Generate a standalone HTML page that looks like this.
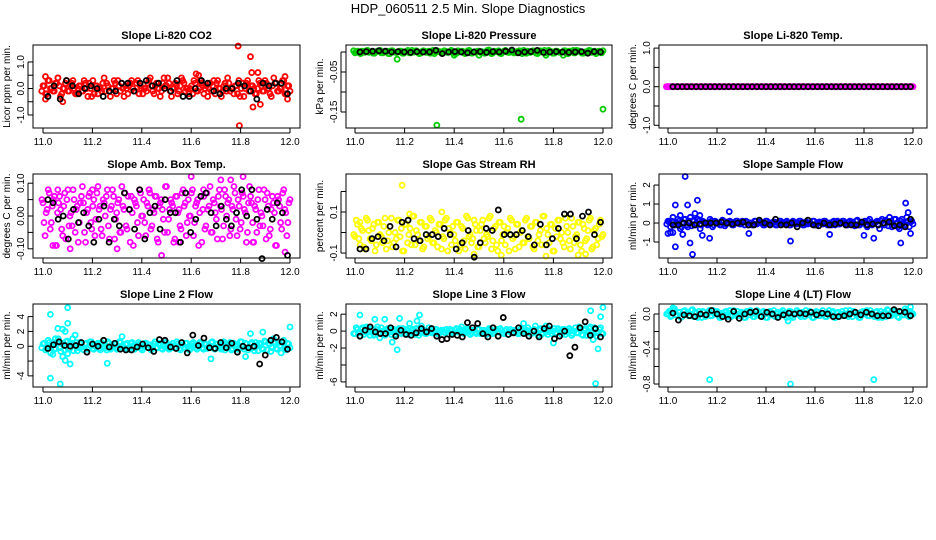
<!DOCTYPE html>
<html><head><meta charset="utf-8"><style>
body{margin:0;background:#fff}
svg{display:block;font-family:"Liberation Sans",Arial,sans-serif}
</style></head><body>
<svg id="c" width="936" height="540" viewBox="0 0 936 540">
<text x="468" y="13" text-anchor="middle" font-size="13">HDP_060511  2.5 Min. Slope Diagnostics</text>
</svg>
<script>
// ---------- data ----------
const xTicks=[11.0,11.2,11.4,11.6,11.8,12.0];
const xTickLabels=["11.0","11.2","11.4","11.6","11.8","12.0"];
// P1 CO2
const co2Main=[0.1,-0.2,0.3,0,-0.1,0.2,0.4,-0.3,0,0.2,-0.1,0.1,0.3,-0.2,0,0.1,-0.1,0.2,-0.3,0,0.3,0.1,-0.2,0,0.2,-0.1,0.1,-0.3,0,0.2,0.3,-0.1,0,0.1,-0.2,0.2,0,-0.1,0.3,0.1,-0.2,0,0.2,0.4,-0.1,0.1,0,-0.3,0.2,0.1,0.4,-0.1,0,0.2,-0.2,0.1,0.3,-0.1,0,0,-0.2,0.2,-0.1,0.3,0.1,0,-0.3,0.2,0.1,-0.2,0.3,0,-0.1,0.2,0.4,-0.1,0,0.1,-0.2,-0.3,0.2,0,0.3,-0.1,0.1,-0.2,0,0.2,-0.1,0.3,0,-0.2,0.1,0.2,-0.1,0,0.3,-0.2,0.1,-0.1];
const co2OutX=[11.01,11.01,11.06,11.08,11.79,11.795,11.84,11.845,11.85,11.87,11.88,11.98,11.99,11.62,11.63];
const co2OutY=[0.45,-0.4,0.4,-0.5,1.6,-1.4,1.2,0.6,-0.7,0.6,-0.6,0.45,-0.4,0.55,0.5];
const co2Black=[-0.3,0.1,-0.4,0.3,0.1,-0.2,0,0.1,0,-0.3,-0.1,-0.1,0.2,0.2,-0.1,0.2,0.3,0.1,0.2,0,-0.1,0.3,-0.3,-0.3,0,0.3,0.2,-0.1,-0.2,0,0,0.2,0.1,-0.1,-0.4,0.2,0.1,0.2,0.2,-0.2];
// P2 pressure
const presMain=[-0.002,0.002,-0.004,0.001,0.003,-0.001,0,-0.003,0.002,0.004,-0.002,0.001,-0.004,0.003,0,-0.001,0.002,-0.003,0.001,0.004,-0.002,0,0.003,-0.004,0.001,0.002,-0.001,-0.003,0.004,0,0.001,-0.002,0.003,-0.001,0,0.002,-0.004,0.003,0.001,-0.002,0,0.004,-0.003,0.001,0.002,-0.001,0,-0.002,0.003,-0.004,0.002,0.001,-0.003,0,0.004,-0.001,0.002,-0.002,0.001,0.003,-0.004,0,0.002,-0.001,0.003,-0.003,0.001,0,0.004,-0.002,0.001,-0.003,0.002,0,-0.001,0.003,-0.004,0.002,0.001,-0.002,0.003,0,-0.003,0.001,0.004,-0.001,0.002,-0.002,0,0.003];
const presOutX=[11.17,11.33,11.67,12.0,11.40,11.50,11.77,11.54,11.84,11.88];
const presOutY=[-0.018,-0.183,-0.168,-0.143,-0.008,-0.008,-0.008,0.005,-0.008,0.004];
const presBlack=[0,0.001,0.002,0.003,0.002,0,0.001,0,-0.001,0.001,0,0,0.004,-0.004,0,0.001,0,-0.002,0,0.001,-0.001,0.001,0,0.002,0.005,-0.002,0,0.001,0.004,-0.001,0,0.001,0,-0.001,0,0.001,-0.003,0.001,0];
// P3 temp
const tempMain=[0,0,0,0,0,0,0,0,0,0,0,0,0,0,0,0,0,0,0,0,0,0,0,0,0,0,0,0,0,0,0,0,0,0,0,0,0,0,0,0,0,0,0,0,0,0,0,0,0,0,0,0,0,0,0,0,0,0,0,0,0,0,0,0,0,0,0,0,0,0,0,0,0,0,0,0,0,0,0,0];
const tempOutX=[11.0,11.46];
const tempOutY=[0,0];
const tempBlack=[0,0,0,0,0,0,0,0,0,0,0,0,0,0,0,0,0,0,0,0,0,0,0,0,0,0,0,0,0,0,0,0,0,0,0,0,0,0,0,0,0,0,0,0,0,0,0,0,0,0,0,0];
// P4 amb box temp
const ambMain=[0.04,-0.06,0.02,0.07,-0.02,0.05,-0.09,0.01,0.06,-0.04,0.03,-0.07,0.08,0,-0.03,0.05,0.02,-0.08,0.04,0.09,-0.05,0.01,0.06,-0.02,0.03,-0.06,0.07,0.02,-0.04,0.05,0,0.08,-0.07,0.03,0.06,-0.01,0.04,-0.05,0.09,0.02,-0.03,0.06,-0.08,0.01,0.05,0.03,-0.06,0.07,0,-0.02,0.04,0.08,-0.04,0.02,0.06,-0.07,0.03,0.05,-0.01,0.09,-0.05,0.02,0.04,-0.08,0.06,0.01,-0.03,0.07,0.03,-0.06,0.05,0,0.08,-0.02,0.04,-0.09,0.06,0.02,-0.04,0.07,0.03,-0.05,0.05,0.01,-0.07,0.08,0.02,-0.03,0.06,0.04,-0.06,0.03,0.09,-0.01,0.05,-0.04,0.07,0.02,-0.08,0.04,0.06,-0.02,0.03,-0.05,0.08,0.01,-0.03,0.05,0.07,-0.06,0.02,0.04,-0.09,0.06,0.03,-0.04,0.08,0.01,-0.02,0.05];
const ambOutX=[11.48,11.6,11.81,11.76,11.3,11.72,11.98,11.11,11.04,11.43,11.06,11.85,11.65,11.2,11.55];
const ambOutY=[-0.12,0.12,0.12,0.11,-0.1,0.11,-0.11,-0.1,-0.09,0.08,0.08,-0.08,0.08,0.08,-0.08];
const ambBlack=[0.05,0.04,-0.01,0,-0.07,0.02,-0.02,0.01,-0.03,-0.08,-0.01,0.03,-0.08,-0.01,-0.03,0.07,0.02,-0.04,0.08,-0.07,0.01,0.03,-0.04,0.05,0.01,0.01,-0.08,0.07,-0.05,-0.01,0.06,0.07,0.01,-0.03,0.03,-0.01,-0.03,0.01,0.08,0,0.08,-0.01,-0.13,0.02,-0.01,0.04,0.01,-0.12];
// P5 gas stream RH
const rhMain=[-0.02,0.04,-0.06,0.01,-0.08,0.06,-0.03,0.02,-0.09,0.05,-0.01,-0.05,0.07,-0.04,0.03,-0.07,0,0.06,-0.02,-0.09,0.04,-0.05,0.02,0.08,-0.06,-0.01,0.05,-0.08,0.03,-0.03,0.07,-0.05,0.01,-0.07,0.04,-0.02,0.06,-0.09,0,0.03,-0.04,0.05,-0.06,0.02,-0.08,0.07,-0.01,-0.03,0.04,-0.07,0.01,0.06,-0.05,-0.02,0.08,-0.04,0.03,-0.09,0.05,-0.01,-0.06,0.02,0.07,-0.03,-0.08,0.04,0,-0.05,0.06,-0.02,0.03,-0.07,0.05,-0.04,0.01,0.08,-0.06,-0.01,0.04,-0.09,0.02,0.06,-0.03,-0.05,0.07,0,-0.08,0.03,-0.02,0.05,-0.06,0.04,-0.04,0.01,0.07,-0.07,0.02,-0.03,0.06,-0.01];
const rhOutX=[11.19,11.59,11.77,11.9,11.93,11.48,11.35,11.02,11.22];
const rhOutY=[0.23,-0.11,-0.115,-0.11,-0.105,-0.105,0.1,0.05,0.09];
const rhBlack=[-0.08,-0.08,-0.03,-0.02,-0.04,0.03,-0.07,0.05,0.06,-0.03,-0.04,-0.01,-0.01,-0.02,0.02,-0.01,-0.08,-0.05,0.01,-0.12,-0.05,0.02,0.01,0.11,-0.01,-0.01,-0.01,0.01,-0.02,-0.06,0.04,-0.06,-0.03,0.02,0.09,0.09,-0.03,0.08,0.1,-0.01,0.05];
// P6 sample flow
const sfMain=[0.1,-0.2,0.3,-0.1,0.2,-0.3,0,0.2,-0.2,0.3,0.1,-0.1,0.2,-0.3,0.1,0,-0.1,0.2,-0.2,0.1,0,-0.1,0.15,-0.15,0.05,0.1,-0.1,0,0.1,-0.05,0.1,-0.1,0.05,0,-0.1,0.1,-0.05,0.05,0,-0.1,0.1,0,-0.05,0.05,-0.1,0.1,0,-0.05,0.1,-0.1,0,0.05,-0.05,0.1,0,-0.1,0.05,0,-0.05,0.1,-0.1,0.05,0,0.1,-0.05,0,-0.1,0.1,0.05,-0.05,0,0.1,-0.1,0.05,0,-0.05,0.1,-0.1,0,0.05,-0.1,0.1,0,-0.05,0.05,-0.1,0.1,0,0.15,-0.15,0.1,-0.1,0.2,-0.2,0.1,0,-0.1,0.1,0.05,-0.05];
const sfOutX=[11.0,11.01,11.03,11.03,11.07,11.08,11.09,11.1,11.11,11.12,11.13,11.14,11.17,11.25,11.33,11.5,11.66,11.8,11.84,11.95,11.97,11.98,11.99,11.06,11.05,11.02];
const sfOutY=[-0.55,-0.5,0.95,-1.25,2.45,0.95,-1.05,-1.65,0.5,1.2,0.4,-0.65,-0.8,0.6,-0.55,-0.95,-0.6,-0.65,-0.8,-1.05,1.05,0.55,-0.55,-0.6,0.4,-0.5];
const sfBlack=[-0.1,-0.1,0,0,-0.1,-0.05,0,0,0,0.05,0,-0.05,0,0.05,-0.1,-0.1,0.15,0,-0.1,0.2,-0.1,-0.1,0,-0.2,0,0.15,-0.1,-0.15,0,-0.1,-0.05,0,-0.1,-0.1,-0.1,0.05,-0.1,-0.05,-0.1,0,0.05,-0.15,-0.1,-0.2,0.2];
// P7 line 2 flow
const l2Main=[0.3,-0.5,0.8,-0.9,0.5,-0.3,1.0,-0.7,0.4,0.6,-0.4,0.2,-0.6,0.5,-0.2,0.3,-0.5,0.4,-0.1,0.6,-0.4,0.2,-0.3,0.5,0,-0.5,0.4,-0.2,0.3,-0.4,0.6,0,-0.3,0.4,-0.2,0.5,-0.4,0.1,0.3,-0.5,0.4,-0.1,0.2,-0.3,0.6,-0.2,0.1,-0.4,0.5,0,-0.3,0.4,-0.2,0.3,-0.5,0.2,0.4,-0.1,-0.3,0.5,-0.2,0.1,0.4,-0.4,0.2,-0.1,0.5,-0.3,0.3,0,-0.4,0.6,-0.2,0.2,-0.5,0.4,0,-0.3,0.6,-0.4,0.3,-0.1,0.5,-0.6,0.2,0.4,-0.3,0.7,-0.5,0.3,-0.2,0.6,-0.4,0.1,0.5,-0.3,0.4,-0.2];
const l2OutX=[11.03,11.03,11.07,11.1,11.1,11.06,11.08,11.08,11.09,11.11,11.13,11.26,11.32,11.68,11.84,11.89,11.82,12.0,11.05,11.1,11.04,11.09,11.12];
const l2OutY=[4.3,-4.3,-5.1,5.2,3.1,2.4,2.3,-1.4,-1.9,-2.4,1.5,-2.3,1.3,-1.7,1.7,1.9,-1.4,2.6,1.0,-1.0,-1.1,2.0,1.0];
const l2Black=[-0.3,0.2,0.6,0.1,0,0.1,0.5,-0.8,0.3,0,0.8,-0.1,0.4,-0.4,-0.5,-0.5,-0.1,0.3,-0.2,-0.7,0.9,0.8,-0.1,-0.3,0.5,-0.9,1.5,0.1,1.1,-0.2,-0.3,0.5,-0.2,0.4,-0.8,0,-0.2,0,-2.4,-1.2,0.8,1.2,0.6,-0.4];
// P8 line 3 flow
const l3Main=[-0.3,0.2,-0.6,0.4,-0.1,0.3,-0.5,0.1,-0.4,0.5,-0.2,0,-0.5,0.3,-0.1,0.2,-0.4,0.1,-0.2,0.3,-0.3,0,-0.1,0.2,-0.4,0.1,-0.2,0.2,-0.3,0,0.1,-0.2,0.2,-0.3,-0.1,0.1,-0.2,0,0.2,-0.3,0.1,-0.1,0.2,-0.2,0,0.3,-0.4,0.1,-0.1,0.2,-0.3,0.1,-0.2,0,0.2,-0.3,0.1,-0.1,0.3,-0.2,0,-0.4,0.2,-0.1,0.1,-0.3,0.2,0,-0.2,0.4,-0.3,0.1,0.6,-0.5,0.3,-0.2,0.1,-0.4,0.2,0,-0.3,0.3,-0.1,0.2,-0.4,0,0.1,-0.3,0.4,-0.2,0.2,-0.5,0.3,-0.1,0.5,-0.4,0.2,-0.2,0.4,-0.3];
const l3OutX=[11.02,11.08,11.12,11.18,11.17,11.15,11.22,11.25,11.26,11.43,11.8,11.95,11.96,11.98,11.97,11.99,12.0,11.1,11.77,11.68];
const l3OutY=[1.9,1.4,1.4,1.5,-2.2,-1.3,0.9,1.2,1.9,0.5,-1.4,2.4,-1.0,-2.1,-6.2,1.7,2.8,-0.8,0.6,0.9];
const l3Black=[-0.6,0.1,0.5,-0.1,-0.3,-0.3,0.4,-0.6,0.1,-0.4,-0.5,-0.2,0.3,-0.1,0.3,-0.6,-1.0,-0.9,-0.4,-0.5,-0.7,1.0,0.4,0.9,-0.3,-0.7,0.4,-0.6,1.6,-0.4,-0.2,0.4,-0.3,-0.6,0,-0.7,0.3,0.6,-0.9,-0.6,0,-2.9,-1.9,0.4,1.1,-0.5,0.3,-0.7];
// P9 line 4 flow
const l4Main=[0.01,-0.03,0.04,-0.01,0.02,-0.04,0.03,0,-0.02,0.04,-0.03,0.01,0.03,-0.04,0.02,-0.01,0.04,-0.02,0,0.03,-0.04,0.01,0.02,-0.03,0.04,-0.01,0,0.03,-0.02,0.01,-0.04,0.02,0.04,-0.03,0,0.01,-0.02,0.03,-0.04,0.02,-0.01,0.04,0,-0.03,0.02,0.01,-0.04,0.03,-0.02,0,0.04,-0.01,0.02,-0.03,0.01,0.03,-0.04,0,0.02,-0.02,0.04,-0.03,0.01,-0.01,0.03,-0.04,0.02,0,-0.02,0.04,-0.03,0.01,0.03,-0.01,-0.04,0.02,0,0.04,-0.02,0.01,-0.03,0.03,0,-0.04,0.02,0.05,-0.02,0.01,0.04,-0.03,0.02,-0.01,0.06,-0.02,0.03,0];
const l4OutX=[11.17,11.5,11.84,11.49,11.02,11.99];
const l4OutY=[-0.75,-0.8,-0.75,-0.08,0.07,0.08];
const l4Black=[0.01,-0.07,-0.01,-0.02,-0.03,0,-0.01,0.04,0,-0.03,-0.06,0.03,-0.05,0,0.02,0.03,-0.03,0.02,0,-0.04,-0.01,0.01,0,0.01,0,0.02,-0.01,0.01,0,-0.03,-0.03,-0.02,0,0.02,-0.01,0.02,0,-0.02,-0.02,-0.02,0.05,0.03,0.02,-0.02];

// ---------- layout ----------
const cols=[{l:33,r:300,x0:43,x1:290},{l:346,r:612,x0:355,x1:603},{l:659,r:927,x0:668,x1:913}];
const rows=[{t:45,b:128},{t:174,b:258},{t:304,b:387}];
const panels=[
 {name:"co2",title:"Slope Li-820 CO2",ylab:"Licor ppm per min.",col:"#ff0000",ymin:-1.49,ymax:1.64,yt:[-1,-0.5,0,0.5,1],yl:["-1.0","","0.0","","1.0"],main:co2Main,ox:co2OutX,oy:co2OutY,blk:co2Black},
 {name:"pressure",title:"Slope Li-820 Pressure",ylab:"kPa per min.",col:"#00cc00",ymin:-0.19,ymax:0.0175,yt:[-0.15,-0.10,-0.05,0],yl:["-0.15","","-0.05",""],main:presMain,ox:presOutX,oy:presOutY,blk:presBlack},
 {name:"temp",title:"Slope Li-820 Temp.",ylab:"degrees C per min.",col:"#ff00ff",ymin:-1.07,ymax:1.08,yt:[-1,-0.5,0,0.5,1],yl:["-1.0","","0.0","","1.0"],main:tempMain,ox:tempOutX,oy:tempOutY,blk:tempBlack},
 {name:"amb-box-temp",title:"Slope Amb. Box Temp.",ylab:"degrees C per min.",col:"#ff00ff",ymin:-0.128,ymax:0.128,yt:[-0.1,-0.05,0,0.05,0.1],yl:["-0.10","","0.00","","0.10"],main:ambMain,ox:ambOutX,oy:ambOutY,blk:ambBlack},
 {name:"gas-rh",title:"Slope Gas Stream RH",ylab:"percent per min.",col:"#ffff00",ymin:-0.124,ymax:0.285,yt:[-0.1,0,0.1,0.2],yl:["-0.1","","0.1",""],main:rhMain,ox:rhOutX,oy:rhOutY,blk:rhBlack},
 {name:"sample-flow",title:"Slope Sample Flow",ylab:"ml/min per min.",col:"#0000ff",ymin:-1.84,ymax:2.58,yt:[-1,0,1,2],yl:["-1","0","1","2"],main:sfMain,ox:sfOutX,oy:sfOutY,blk:sfBlack},
 {name:"line2-flow",title:"Slope Line 2 Flow",ylab:"ml/min per min.",col:"#00ffff",ymin:-5.5,ymax:5.7,yt:[-4,-2,0,2,4],yl:["-4","","0","2","4"],main:l2Main,ox:l2OutX,oy:l2OutY,blk:l2Black},
 {name:"line3-flow",title:"Slope Line 3 Flow",ylab:"ml/min per min.",col:"#00ffff",ymin:-6.6,ymax:3.2,yt:[-6,-4,-2,0,2],yl:["-6","","-2","0","2"],main:l3Main,ox:l3OutX,oy:l3OutY,blk:l3Black},
 {name:"line4-flow",title:"Slope Line 4 (LT) Flow",ylab:"ml/min per min.",col:"#00ffff",ymin:-0.834,ymax:0.114,yt:[-0.8,-0.6,-0.4,-0.2,0],yl:["-0.8","","-0.4","","0.0"],main:l4Main,ox:l4OutX,oy:l4OutY,blk:l4Black}
];
const NS="http://www.w3.org/2000/svg";
const svg=document.getElementById('c');
function mk(tag,attrs,parent){const e=document.createElementNS(NS,tag);for(const k in attrs)e.setAttribute(k,attrs[k]);parent.appendChild(e);return e;}
panels.forEach((p,i)=>{
  const C=cols[i%3],R=rows[Math.floor(i/3)];
  const g=mk('g',{},svg);
  
  
  const xs=v=>C.x0+(v-11)*(C.x1-C.x0);
  const ys=v=>R.b-(v-p.ymin)/(p.ymax-p.ymin)*(R.b-R.t);
  const t=mk('text',{x:(C.l+C.r)/2,y:R.t-6,'text-anchor':'middle','font-size':'11','font-weight':'bold'},g);
  t.textContent=p.title;
  
  
  const yl=mk('text',{x:0,y:0,'text-anchor':'middle','font-size':'10',transform:`translate(${C.l-23},${(R.t+R.b)/2}) rotate(-90)`},g);
  yl.textContent=p.ylab;
  
  
  // points
  const pts=mk('g',{fill:'none','stroke-width':'1.8'},g);
  
  
  const n=p.main.length;
  // forward pass and reversed pass (dense band of 2.5-minute samples)
  p.main.forEach((v,k)=>{
    const c=mk('circle',{cx:xs(11+k/(n-1)),cy:ys(v),r:2.5,stroke:p.col},pts);
    
    
    const c2=mk('circle',{cx:xs(12-(k+0.5)/(n-1)),cy:ys(v),r:2.5,stroke:p.col},pts);
    
    
  });
  p.ox.forEach((xv,k)=>{
    const c=mk('circle',{cx:xs(xv),cy:ys(p.oy[k]),r:2.5,stroke:p.col},pts);
    
    
  });
  const m=p.blk.length;
  p.blk.forEach((v,k)=>{
    const c=mk('circle',{cx:xs(11.02+0.97*k/(m-1)),cy:ys(v),r:2.5,stroke:'#000'},pts);
    
    
  });
  // box
  const b=mk('rect',{x:C.l,y:R.t,width:C.r-C.l,height:R.b-R.t,fill:'none',stroke:'#000','stroke-width':'1'},g);
  
  
  // x axis
  xTicks.forEach((v,k)=>{
    mk('line',{x1:xs(v),x2:xs(v),y1:R.b,y2:R.b+5,stroke:'#000'},g);
    const tl=mk('text',{x:xs(v),y:R.b+17,'text-anchor':'middle','font-size':'10'},g);
    tl.textContent=xTickLabels[k];
    
    
  });
  mk('line',{x1:xs(11),x2:xs(12),y1:R.b+5,y2:R.b+5,stroke:'#000'},g);
  // y axis
  p.yt.forEach((v,k)=>{
    mk('line',{x1:C.l-5,x2:C.l,y1:ys(v),y2:ys(v),stroke:'#000'},g);
    if(p.yl[k]){
      const tl=mk('text',{x:0,y:0,'text-anchor':'middle','font-size':'10',transform:`translate(${C.l-9},${ys(v)}) rotate(-90)`},g);
      tl.textContent=p.yl[k];
      
      
    }
  });
  mk('line',{x1:C.l-5,x2:C.l-5,y1:ys(p.yt[0]),y2:ys(p.yt[p.yt.length-1]),stroke:'#000'},g);
});
</script>
</body></html>
